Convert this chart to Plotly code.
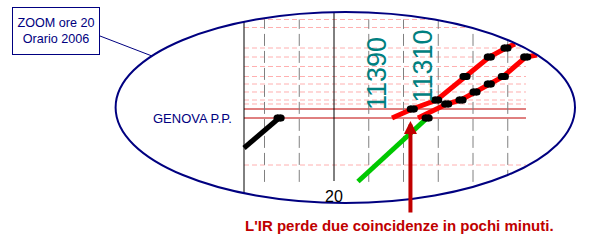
import plotly.graph_objects as go

# ---------------- data ----------------
# time axis: minutes after midnight (20:00 = 1200); distance axis: km from GENOVA P.P.
station_km = [32.83, 30.17, 23.33, 20.33, 17.17, 13.83, 11.33, 8.67, 6.0, 4.67, -15.67]
main_station_km = [3.0, 0.0]            # red lines (GENOVA P.P.)
grid_times = [1180, 1190, 1210, 1220, 1230, 1240, 1250]
hour_times = [1200]
hour_labels = ["20"]
window_t = [1174.1, 1255.25]
window_km = [-21.3, 32.83]

black_t = [1174.1, 1184.2]
black_km = [-10.0, 0.0]
black_stop_t = [1184.2]
black_stop_km = [0.0]

green_t = [1206.9, 1226.8]
green_km = [-21.17, 0.0]
green_stop_t = [1226.8]
green_stop_km = [0.0]

red1_t = [1216.7, 1222.53, 1229.55, 1237.7, 1244.69, 1249.5, 1252.09]
red1_km = [0.0, 3.0, 6.0, 13.83, 20.33, 23.33, 24.67]
red1_stop_t = [1222.53, 1229.55, 1237.7, 1244.69, 1249.5]
red1_stop_km = [3.0, 6.0, 13.83, 20.33, 23.33]

red2_t = [1224.17, 1232.43, 1236.55, 1240.58, 1244.69, 1248.72, 1255.17, 1258.42]
red2_km = [0.0, 4.67, 6.0, 8.67, 11.33, 13.83, 20.33, 21.0]
red2_stop_t = [1232.43, 1236.55, 1240.58, 1244.69, 1248.72, 1255.17]
red2_stop_km = [4.67, 6.0, 8.67, 11.33, 13.83, 20.33]

train_numbers = ["11390", "11310"]
train_label_t = [1212.4, 1225.6]
train_label_km = [14.67, 17.5]

station_name = "GENOVA P.P."
box_text = "ZOOM ore 20<br>Orario 2006"
note_text = "L'IR perde due coincidenze in pochi minuti."
note_t = 1222.0
note_km = -1.0

# ---------------- geometry / style ----------------
W, H = 600, 240
PX_PER_MIN = 3.475
PX_PER_KM = 3.0
X20, Y0 = 334.0, 118.0
x_range = [1200 - X20 / PX_PER_MIN, 1200 + (W - X20) / PX_PER_MIN]
y_range = [-(H - Y0) / PX_PER_KM, Y0 / PX_PER_KM]

NAVY = "#000080"
DARKRED = "#C00000"
TEAL = "#008080"
PINK = "#FFB0B0"
FONT = "Liberation Sans, Arial, sans-serif"


def px(x, y):
    return x / W, 1 - y / H


# ellipse (pixels)
cx, cy, rx, ry = 345.3, 107.5, 229.7, 95.5
k = 0.5523


def ellipse_path(cx, cy, rx, ry):
    pts = [
        (cx + rx, cy),
        (cx + rx, cy + k * ry), (cx + k * rx, cy + ry), (cx, cy + ry),
        (cx - k * rx, cy + ry), (cx - rx, cy + k * ry), (cx - rx, cy),
        (cx - rx, cy - k * ry), (cx - k * rx, cy - ry), (cx, cy - ry),
        (cx + k * rx, cy - ry), (cx + rx, cy - k * ry), (cx + rx, cy),
    ]
    p = [px(*q) for q in pts]
    s = "M%.5f,%.5f " % p[0]
    for i in range(1, 13, 3):
        s += "C%.5f,%.5f %.5f,%.5f %.5f,%.5f " % (p[i] + p[i + 1] + p[i + 2])
    return s + "Z"


fig = go.Figure()

shapes = []
# horizontal station lines
for km in station_km:
    shapes.append(dict(type="line", xref="x", yref="y", x0=window_t[0], x1=window_t[1], y0=km, y1=km,
                       line=dict(color=PINK, width=1, dash="5px,3px"), layer="below"))
for km in main_station_km:
    shapes.append(dict(type="line", xref="x", yref="y", x0=window_t[0], x1=window_t[1], y0=km, y1=km,
                       line=dict(color=DARKRED, width=1), layer="below"))
# vertical time lines
for t in grid_times:
    shapes.append(dict(type="line", xref="x", yref="y", x0=t, x1=t, y0=window_km[0], y1=window_km[1],
                       line=dict(color="#808080", width=1, dash="12px,5px"), layer="below"))

# black verticals: window start and full hours (as traces)
vx, vy = [window_t[0], window_t[0], None], [y_range[0], y_range[1], None]
for t in hour_times:
    vx += [t, t, None]
    vy += [window_km[0] + 0.3, y_range[1], None]
fig.add_trace(go.Scatter(x=vx, y=vy, mode="lines", line=dict(color="black", width=1),
                         hoverinfo="skip", showlegend=False))

# white mask outside the ellipse
x0p, y0p = -0.02, -0.02
x1p, y1p = 1.02, 1.02
mask = "M%.3f,%.3f L%.3f,%.3f L%.3f,%.3f L%.3f,%.3f Z " % (x0p, y0p, x1p, y0p, x1p, y1p, x0p, y1p)
mask += ellipse_path(cx, cy, rx, ry)
shapes.append(dict(type="path", xref="paper", yref="paper", path=mask, fillcolor="white",
                   fillrule="evenodd", line=dict(width=0), layer="above"))
shapes.append(dict(type="path", xref="paper", yref="paper", path=ellipse_path(cx, cy, rx, ry),
                   line=dict(color=NAVY, width=2), layer="above"))
# connector from box to ellipse
a = px(100, 36)
b = px(152, 56)
shapes.append(dict(type="line", xref="paper", yref="paper", x0=a[0], y0=a[1], x1=b[0], y1=b[1],
                   line=dict(color=NAVY, width=1), layer="above"))

# trains
for tt, kk, col in [(black_t, black_km, "black"), (red1_t, red1_km, "#FF0000"),
                    (red2_t, red2_km, "#FF0000"), (green_t, green_km, "#00C800")]:
    fig.add_trace(go.Scatter(x=tt, y=kk, mode="lines", line=dict(color=col, width=5),
                             hoverinfo="skip", showlegend=False))

# stops (short black dwell segments)
sx, sy = [], []
for st, sk in [(black_stop_t, black_stop_km), (green_stop_t, green_stop_km),
               (red1_stop_t, red1_stop_km), (red2_stop_t, red2_stop_km)]:
    for t, km in zip(st, sk):
        sx += [t - 0.6, t + 0.6, None]
        sy += [km, km, None]
fig.add_trace(go.Scatter(x=sx, y=sy, mode="lines+markers", line=dict(color="black", width=7),
                         marker=dict(color="black", size=7, symbol="circle"),
                         hoverinfo="skip", showlegend=False))

ann = []
for name, t, km in zip(train_numbers, train_label_t, train_label_km):
    ann.append(dict(x=t, y=km, xref="x", yref="y", text=name, showarrow=False, textangle=-90,
                    font=dict(family=FONT, size=27, color=TEAL), xanchor="center", yanchor="middle"))
for t, lab in zip(hour_times, hour_labels):
    ann.append(dict(x=t, y=window_km[0] - 1.2, xref="x", yref="y", text=lab, showarrow=False,
                    font=dict(family=FONT, size=16, color="black"), xanchor="center", yanchor="top"))
ann.append(dict(x=234 / W, y=0.0, xref="paper", yref="y", text=station_name, showarrow=False,
                font=dict(family=FONT, size=13, color=NAVY), xanchor="right", yanchor="middle"))
bx, by = px(12, 7)
ann.append(dict(x=bx, y=by, xref="paper", yref="paper", text=box_text, showarrow=False,
                font=dict(family=FONT, size=12.6, color=NAVY), xanchor="left", yanchor="top",
                width=84, height=44, borderpad=1, borderwidth=1, bordercolor=NAVY, bgcolor="white",
                align="center", valign="middle"))
# arrow
ann.append(dict(x=note_t, y=note_km, xref="x", yref="y", text="", showarrow=True,
                ax=0, ay=93, axref="pixel", ayref="pixel", arrowhead=2, arrowsize=0.65,
                arrowwidth=4, arrowcolor=DARKRED, standoff=0))
tx, ty = px(243, 225)
ann.append(dict(x=tx, y=ty, xref="paper", yref="paper", text="<b>" + note_text + "</b>", showarrow=False,
                font=dict(family=FONT, size=15, color=DARKRED), xanchor="left", yanchor="middle"))

fig.update_layout(
    width=W, height=H, margin=dict(l=0, r=0, t=0, b=0),
    paper_bgcolor="white", plot_bgcolor="white",
    xaxis=dict(range=x_range, visible=False, fixedrange=True),
    yaxis=dict(range=y_range, visible=False, fixedrange=True),
    shapes=shapes, annotations=ann, showlegend=False,
)
fig.write_html("out.html")
